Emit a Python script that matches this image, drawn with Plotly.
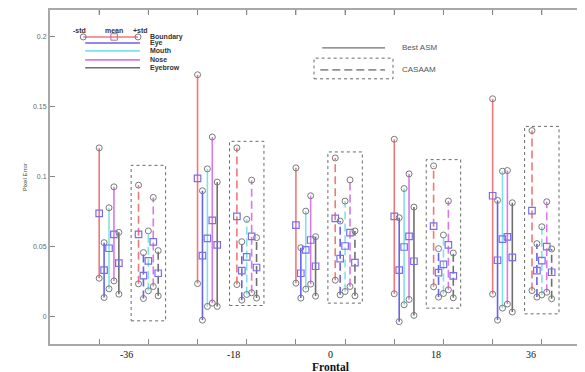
import plotly.graph_objects as go

poses = ["-36", "-18", "0", "18", "36"]
features = ["Boundary", "Eye", "Mouth", "Nose", "Eyebrow"]
feature_colors = ["#f07878", "#6a62e8", "#7fe3e6", "#d77ae6", "#6f6f6f"]

# Best ASM  (rows = features, cols = poses)
asm_minus_std = [
    [0.0271, 0.0233, 0.0236, 0.0160, 0.0157],
    [0.0133, -0.0029, 0.0129, -0.0040, -0.0029],
    [0.0195, 0.0069, 0.0193, 0.0081, 0.0057],
    [0.0252, 0.0093, 0.0229, 0.0119, 0.0086],
    [0.0157, 0.0069, 0.0143, 0.0005, 0.0029],
]
asm_mean = [
    [0.0736, 0.0986, 0.0652, 0.0714, 0.0862],
    [0.0329, 0.0433, 0.0307, 0.0329, 0.0400],
    [0.0486, 0.0557, 0.0474, 0.0495, 0.0552],
    [0.0586, 0.0686, 0.0545, 0.0571, 0.0567],
    [0.0379, 0.0510, 0.0357, 0.0393, 0.0421],
]
asm_plus_std = [
    [0.1205, 0.1729, 0.1062, 0.1267, 0.1557],
    [0.0526, 0.0898, 0.0490, 0.0705, 0.0829],
    [0.0776, 0.1055, 0.0752, 0.0914, 0.1038],
    [0.0926, 0.1283, 0.0862, 0.1019, 0.1043],
    [0.0600, 0.0960, 0.0569, 0.0781, 0.0812],
]

# CASAAM
cas_minus_std = [
    [0.0231, 0.0226, 0.0257, 0.0210, 0.0183],
    [0.0126, 0.0114, 0.0152, 0.0136, 0.0136],
    [0.0181, 0.0155, 0.0176, 0.0162, 0.0152],
    [0.0212, 0.0167, 0.0212, 0.0188, 0.0171],
    [0.0145, 0.0129, 0.0145, 0.0131, 0.0124],
]
cas_mean = [
    [0.0586, 0.0714, 0.0700, 0.0645, 0.0755],
    [0.0290, 0.0326, 0.0412, 0.0312, 0.0326],
    [0.0395, 0.0424, 0.0502, 0.0371, 0.0398],
    [0.0531, 0.0571, 0.0598, 0.0510, 0.0498],
    [0.0307, 0.0348, 0.0383, 0.0288, 0.0314],
]
cas_plus_std = [
    [0.0938, 0.1205, 0.1133, 0.1076, 0.1329],
    [0.0455, 0.0533, 0.0681, 0.0483, 0.0519],
    [0.0610, 0.0693, 0.0824, 0.0581, 0.0640],
    [0.0850, 0.0974, 0.0976, 0.0824, 0.0819],
    [0.0469, 0.0562, 0.0610, 0.0452, 0.0481],
]
cas_box_top = [0.1080, 0.1252, 0.1176, 0.1121, 0.1359]
cas_box_bottom = [-0.0034, 0.0076, 0.0093, 0.0057, 0.0016]

y_ticks = [0, 0.05, 0.1, 0.15, 0.2]
y_tick_labels = ["0", "0.05", "0.1", "0.15", "0.2"]
x_ticks = [1, 1.5, 2, 2.5, 3, 3.5, 4, 4.5, 5, 5.5]
x_label_pos = [1.281, 2.364, 3.350, 4.424, 5.387]

CIRCLE_COLOR = "#7a7a7a"
MEAN_COLOR = "#7b6cf0"

fig = go.Figure()


def add_set(lows, means, highs, offset, dash):
    for f, feat in enumerate(features):
        xs_line, ys_line, xs_c, ys_c, xs_m = [], [], [], [], []
        for g in range(len(poses)):
            x = g + 1 + offset + 0.05 * f
            xs_line += [x, x, None]
            ys_line += [lows[f][g], highs[f][g], None]
            xs_c += [x, x]
            ys_c += [lows[f][g], highs[f][g]]
            xs_m.append(x)
        fig.add_trace(go.Scatter(x=xs_line, y=ys_line, mode="lines",
                                 line=dict(color=feature_colors[f], width=1.6, dash=dash),
                                 showlegend=False, hoverinfo="skip"))
        fig.add_trace(go.Scatter(x=xs_c, y=ys_c, mode="markers",
                                 marker=dict(symbol="circle-open", size=6, color=CIRCLE_COLOR,
                                             line=dict(width=1)),
                                 showlegend=False))
        fig.add_trace(go.Scatter(x=xs_m, y=means[f], mode="markers",
                                 marker=dict(symbol="square-open", size=6.5, color=MEAN_COLOR,
                                             line=dict(width=1.2)),
                                 showlegend=False))


add_set(asm_minus_std, asm_mean, asm_plus_std, 0.0, "solid")
add_set(cas_minus_std, cas_mean, cas_plus_std, 0.4, "8px,4px")

shapes = []
for g in range(len(poses)):
    shapes.append(dict(type="rect", xref="x", yref="y",
                       x0=g + 1.4 - 0.075, x1=g + 1.4 + 0.275,
                       y0=cas_box_bottom[g], y1=cas_box_top[g],
                       line=dict(color="#6a6a6a", width=1, dash="dot")))

# top ticks (mirrored look)
for xt in x_ticks:
    shapes.append(dict(type="line", xref="x", yref="paper", x0=xt, x1=xt, y0=1, y1=1 - 5 / 336,
                       line=dict(color="#888888", width=1)))

# ---- legend 1 (feature key) ----
leg_y = [0.2, 0.1957, 0.19, 0.1836, 0.1779]
for f in range(1, 5):
    shapes.append(dict(type="line", xref="x", yref="y", x0=0.858, x1=1.415,
                       y0=leg_y[f], y1=leg_y[f],
                       line=dict(color=feature_colors[f], width=1.6)))
fig.add_trace(go.Scatter(x=[0.838, 1.395], y=[0.2, 0.2], mode="lines+markers",
                         line=dict(color=feature_colors[0], width=1.6),
                         marker=dict(symbol="circle-open", size=6, color=CIRCLE_COLOR),
                         showlegend=False, hoverinfo="skip"))
fig.add_trace(go.Scatter(x=[1.152], y=[0.2], mode="markers",
                         marker=dict(symbol="square-open", size=6.5, color="#c06a8a"),
                         showlegend=False, hoverinfo="skip"))

annotations = []
small = dict(family="Liberation Sans", size=7, color="#333333")
for txt, xx in [("-std", 0.80), ("mean", 1.152), ("+std", 1.42)]:
    annotations.append(dict(x=xx, y=0.2045, xref="x", yref="y", text="<b>" + txt + "</b>",
                            showarrow=False, font=small, xanchor="center", yanchor="middle"))
for f, feat in enumerate(features):
    annotations.append(dict(x=1.50, y=leg_y[f], xref="x", yref="y", text="<b>" + feat + "</b>",
                            showarrow=False, font=small, xanchor="left", yanchor="middle"))

# ---- legend 2 (method key) ----
shapes.append(dict(type="line", xref="x", yref="y", x0=3.268, x1=3.906, y0=0.1921, y1=0.1921,
                   line=dict(color="#707070", width=1.3)))
shapes.append(dict(type="rect", xref="x", yref="y", x0=3.184, x1=3.987, y0=0.170, y1=0.1848,
                   line=dict(color="#6a6a6a", width=1, dash="dot")))
shapes.append(dict(type="line", xref="x", yref="y", x0=3.248, x1=3.906, y0=0.1764, y1=0.1764,
                   line=dict(color="#909090", width=1.6, dash="8px,4px")))
method_font = dict(family="Liberation Sans", size=8, color="#555555")
annotations.append(dict(x=4.058, y=0.1921, xref="x", yref="y", text="Best ASM", showarrow=False,
                        font=method_font, xanchor="left", yanchor="middle"))
annotations.append(dict(x=4.058, y=0.1764, xref="x", yref="y", text="CASAAM", showarrow=False,
                        font=method_font, xanchor="left", yanchor="middle"))

# x tick labels and title
label_font = dict(family="Liberation Serif", size=10, color="#111111")
for xp, txt in zip(x_label_pos, poses):
    annotations.append(dict(x=xp, y=0, xref="x", yref="paper", text=txt, showarrow=False,
                            font=label_font, xanchor="center", yanchor="middle", yshift=-10,
                            borderpad=0))
annotations.append(dict(x=3.350, y=0, xref="x", yref="paper", text="<b>Frontal</b>",
                        showarrow=False, xanchor="center", yanchor="middle", yshift=-23,
                        borderpad=0,
                        font=dict(family="Liberation Serif", size=11.5, color="#111111")))

# y axis title
annotations.append(dict(x=-0.055, y=0.5, xref="paper", yref="paper", text="Pixel Error",
                        textangle=-90, showarrow=False,
                        font=dict(family="Liberation Sans", size=6, color="#444444")))

fig.update_layout(
    width=585, height=372,
    margin=dict(l=42, r=0, t=1, b=36),
    paper_bgcolor="white", plot_bgcolor="white",
    shapes=shapes, annotations=annotations,
    showlegend=False,
    xaxis=dict(range=[0.5, 6.0], tickmode="array", tickvals=x_ticks, showticklabels=False,
               ticks="inside", ticklen=5, tickcolor="#888888", showgrid=False, zeroline=False,
               showline=True, linecolor="#a8a8a8", linewidth=2, mirror="ticks"),
    yaxis=dict(range=[-0.02, 0.2193], tickmode="array", tickvals=y_ticks, ticktext=y_tick_labels,
               ticks="inside", ticklen=5, tickcolor="#888888", showgrid=False, zeroline=False,
               showline=True, linecolor="#a8a8a8", linewidth=2, mirror="ticks",
               tickfont=dict(family="Liberation Sans", size=7, color="#666666")),
)

fig.write_html("out.html")
